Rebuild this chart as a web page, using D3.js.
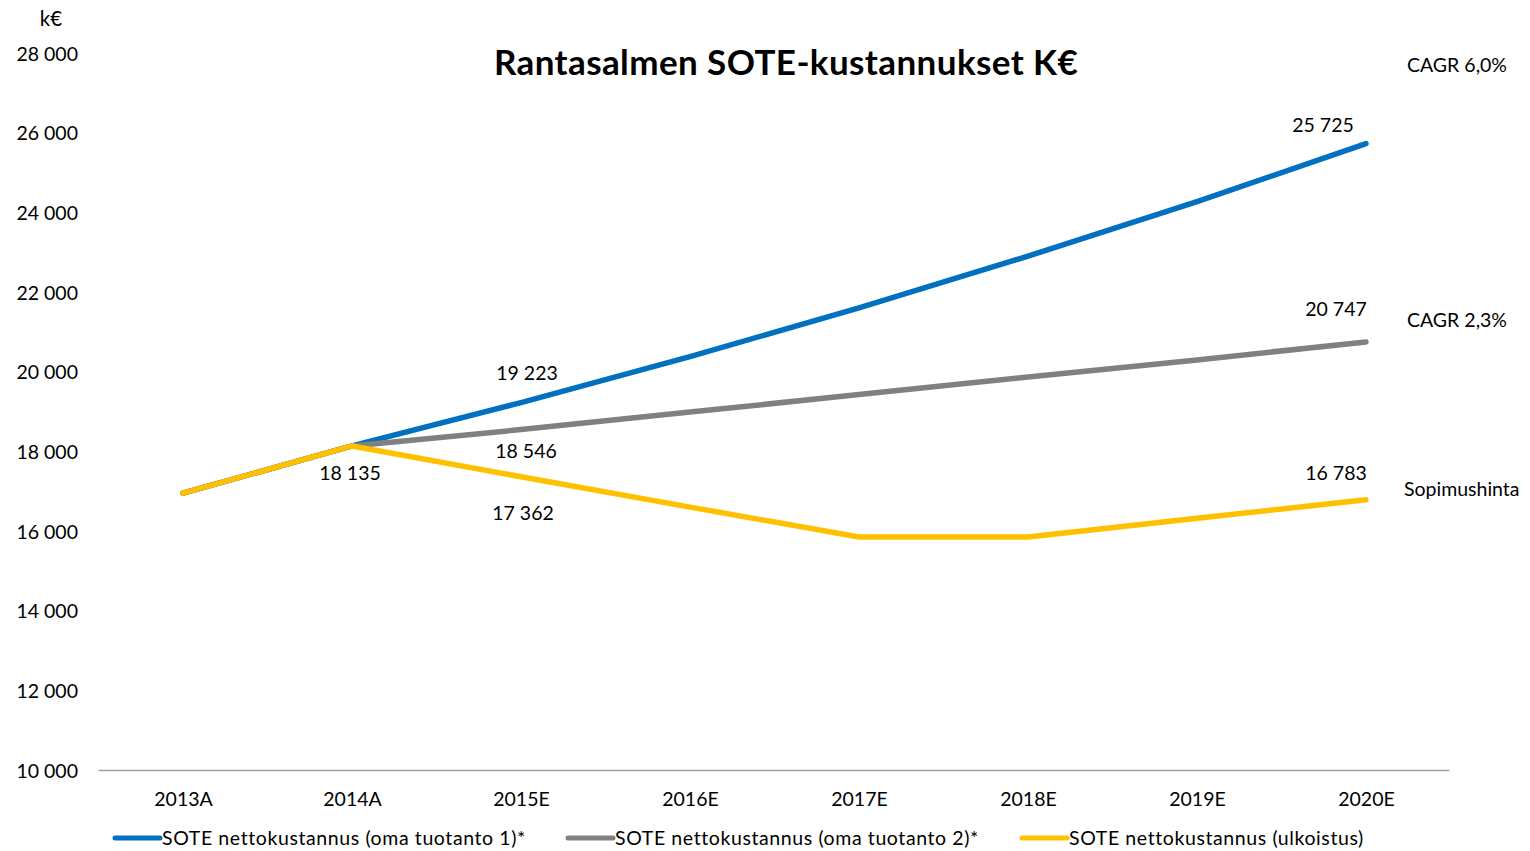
<!DOCTYPE html>

<head>
  <meta charset="utf-8">
  <title>Rantasalmen SOTE-kustannukset</title>
  <style>
    body {
      margin: 0;
      background: #fff;
    }

    text {
      font-family: Lato, 'Noto Sans', sans-serif;
      fill: #000;
    }
  </style>
</head>

<body>
  <div id="viz"></div>

  <script src="https://d3js.org/d3.v7.min.js"></script>

  <script>
    // data
    const years = ['2013A', '2014A', '2015E', '2016E', '2017E', '2018E', '2019E', '2020E'];
    const omaTuotanto1 = [16950, 18135, 19223, 20380, 21600, 22900, 24270, 25725];
    const omaTuotanto2 = [16950, 18135, 18546, 18985, 19425, 19865, 20295, 20747];
    const ulkoistus = [16950, 18135, 17362, 16600, 15850, 15850, 16320, 16783];
    const seriesNames = [
      'SOTE nettokustannus (oma tuotanto 1)*',
      'SOTE nettokustannus (oma tuotanto 2)*',
      'SOTE nettokustannus (ulkoistus)'
    ];
    const yTicks = [10000, 12000, 14000, 16000, 18000, 20000, 22000, 24000, 26000, 28000];
    const notes = ['CAGR 6,0%', 'CAGR 2,3%', 'Sopimushinta'];

    const colors = ['#0070C0', '#808080', '#FFC000'];

    const width = 1530, height = 851;

    let svg = d3.select('#viz')
      .append('svg')
      .attr('width', width)
      .attr('height', height);

    let x = d3.scalePoint()
      .domain(years)
      .range([98.5, 1450.5])
      .padding(0.5);

    let y = d3.scaleLinear()
      .domain([10000, 28000])
      .range([770, 53]);

    const fmt = d3.formatLocale({ decimal: ',', thousands: '\u00a0', grouping: [3] }).format(',d');

    // y axis (labels only)
    svg.append('g')
      .attr('transform', 'translate(78,0)')
      .call(d3.axisLeft(y).tickValues(yTicks).tickSize(0).tickPadding(0).tickFormat(fmt))
      .call(g => g.select('.domain').remove())
      .selectAll('text')
      .attr('dy', '0.36em')
      .style('font-size', '19.5px')
      .style('font-family', 'Lato, sans-serif')
      .attr('fill', '#000');

    svg.append('text')
      .attr('x', 51)
      .attr('y', 26)
      .attr('text-anchor', 'middle')
      .style('font-size', '20.5px')
      .text('k€');

    // x axis
    svg.append('g')
      .attr('transform', 'translate(0,770)')
      .call(d3.axisBottom(x).tickSize(0).tickPadding(0))
      .call(g => g.select('.domain')
        .attr('d', 'M98.5,0.5H1449.5')
        .attr('stroke', '#a0a0a0')
        .attr('stroke-width', 1.5))
      .selectAll('text')
      .attr('y', 36)
      .attr('dy', 0)
      .style('font-size', '19.5px')
      .style('font-family', 'Lato, sans-serif')
      .attr('fill', '#000');

    // title
    svg.append('text')
      .attr('x', 786)
      .attr('y', 75)
      .attr('text-anchor', 'middle')
      .style('font-size', '35px')
      .style('font-weight', 'bold')
      .style('letter-spacing', '0.4px')
      .text('Rantasalmen SOTE-kustannukset K€');

    // lines
    const series = [omaTuotanto1, omaTuotanto2, ulkoistus];
    let line = d3.line()
      .x((d, i) => x(years[i]))
      .y(d => y(d));

    svg.selectAll('.series')
      .data(series)
      .join('path')
      .attr('class', 'series')
      .attr('d', d => line(d))
      .attr('fill', 'none')
      .attr('stroke', (d, i) => colors[i])
      .attr('stroke-width', 5.5)
      .attr('stroke-linecap', 'round')
      .attr('stroke-linejoin', 'round');

    // data labels: series index, category index, offset from point
    const labelSpots = [
      { s: 1, i: 1, dx: -2, dy: 34 },
      { s: 0, i: 2, dx: 6, dy: -23 },
      { s: 1, i: 2, dx: 5, dy: 28 },
      { s: 2, i: 2, dx: 2, dy: 43 },
      { s: 0, i: 7, dx: -43, dy: -12 },
      { s: 1, i: 7, dx: -30, dy: -26 },
      { s: 2, i: 7, dx: -30, dy: -20 }
    ];

    svg.selectAll('.dlabel')
      .data(labelSpots)
      .join('text')
      .attr('class', 'dlabel')
      .attr('x', d => x(years[d.i]) + d.dx)
      .attr('y', d => y(series[d.s][d.i]) + d.dy)
      .attr('text-anchor', 'middle')
      .style('font-size', '19.5px')
      .text(d => fmt(series[d.s][d.i]));

    // side notes
    const noteY = [72, 327, 496];
    const noteX = [1407, 1407, 1404];
    svg.selectAll('.note')
      .data(notes)
      .join('text')
      .attr('class', 'note')
      .attr('x', (d, i) => noteX[i])
      .attr('y', (d, i) => noteY[i])
      .style('font-size', '19.5px')
      .text(d => d);

    // legend
    const legendX = [113, 566, 1020];
    let legend = svg.selectAll('.legend')
      .data(seriesNames)
      .join('g')
      .attr('class', 'legend')
      .attr('transform', (d, i) => `translate(${legendX[i]}, 838)`);

    legend.append('line')
      .attr('x1', 2)
      .attr('x2', 47)
      .attr('stroke', (d, i) => colors[i])
      .attr('stroke-width', 5)
      .attr('stroke-linecap', 'round');

    legend.append('text')
      .attr('x', 49)
      .attr('y', 7)
      .style('font-size', '19.5px')
      .style('letter-spacing', '0.6px')
      .text(d => d);
  </script>
</body>

</html>
